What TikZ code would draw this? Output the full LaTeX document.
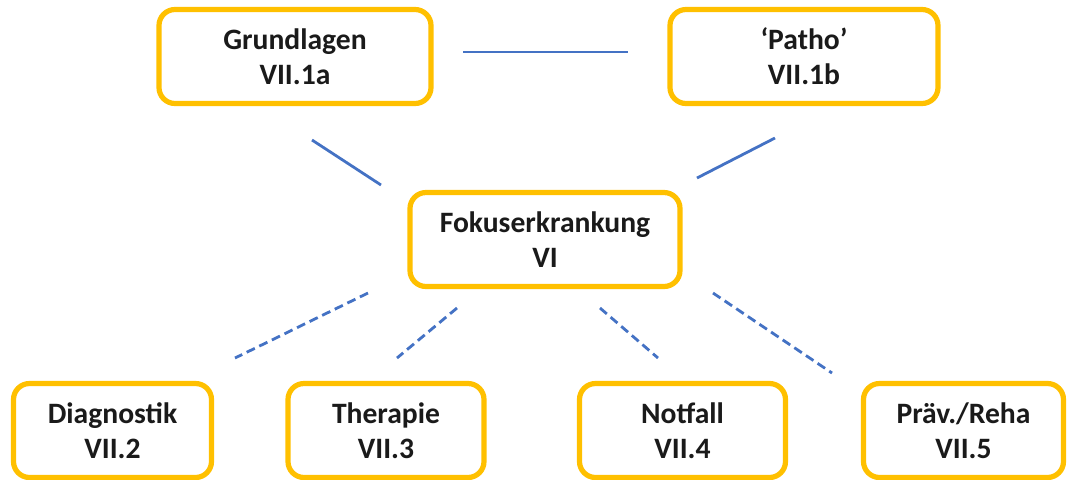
\documentclass[tikz,border=0pt]{standalone}
\usepackage{fontspec}
\setmainfont{Carlito}
\usetikzlibrary{positioning}
\definecolor{boxgold}{HTML}{FFC000}
\definecolor{lineblue}{HTML}{4472C4}
\definecolor{txtdark}{HTML}{1A1A1A}
\tikzset{
  box/.style={draw=boxgold,line width=2.6pt,rounded corners=8pt,fill=white,align=center,
    minimum height=47pt,text=txtdark,font=\fontsize{14.8}{17.5}\selectfont\bfseries},
  link/.style={draw=lineblue,line width=1.4pt},
  dlink/.style={link,dash pattern=on 4.5pt off 2.5pt}
}
\begin{document}
\begin{tikzpicture}[x=0.5pt,y=-0.5pt]
    \useasboundingbox (0,0) rectangle (1067,479);
    \node[box,minimum width=136pt] (grund) at (295,56.5) {Grundlagen\\VII.1a};
    \node[box,minimum width=134pt] (patho) at (804,56.5) {‘Patho’\\VII.1b};
    \node[box,minimum width=135pt] (fokus) at (545,239.5) {Fokuserkrankung\\VI};
    \node[box,minimum width=99pt] (diag) at (112.5,430.5) {Diagnostik\\VII.2};
    \node[box,minimum width=98pt] (ther) at (386,430.5) {Therapie\\VII.3};
    \node[box,minimum width=103pt] (notf) at (682.5,430.5) {Notfall\\VII.4};
    \node[box,minimum width=100pt] (praev) at (963.5,430.5) {Präv./Reha\\VII.5};
    % free line ends
    \coordinate (gp1) at (463,52);  \coordinate (gp2) at (628,52);
    \coordinate (gf1) at (312,140); \coordinate (gf2) at (381,185);
    \coordinate (pf1) at (775,138); \coordinate (pf2) at (697,178);
    \coordinate (fd1) at (368,293); \coordinate (fd2) at (235,358);
    \coordinate (ft1) at (457,308); \coordinate (ft2) at (397,358);
    \coordinate (fn1) at (600,308); \coordinate (fn2) at (658,358);
    \coordinate (fp1) at (713,293); \coordinate (fp2) at (832,373);
    \draw[link] (gp1) -- (gp2);
    \draw[link] (gf1) -- (gf2);
    \draw[link] (pf1) -- (pf2);
    \draw[dlink] (fd1) -- (fd2);
    \draw[dlink] (ft1) -- (ft2);
    \draw[dlink] (fn1) -- (fn2);
    \draw[dlink] (fp1) -- (fp2);
\end{tikzpicture}
\end{document}
